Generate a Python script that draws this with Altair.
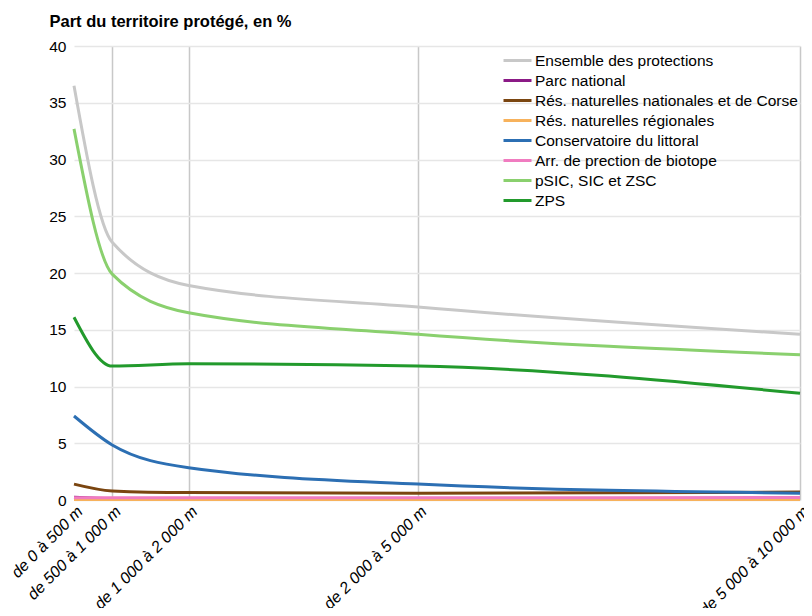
import altair as alt
import pandas as pd

distances = [500, 1000, 2000, 5000, 10000]
distance_labels = ["de 0 à 500 m", "de 500 à 1 000 m", "de 1 000 à 2 000 m",
                   "de 2 000 à 5 000 m", "de 5 000 à 10 000 m"]

series_names = ["Ensemble des protections", "Parc national",
                "Rés. naturelles nationales et de Corse", "Rés. naturelles régionales",
                "Conservatoire du littoral", "Arr. de prection de biotope",
                "pSIC, SIC et ZSC", "ZPS"]
series_colors = ["#c8c8c8", "#8b1a86", "#7a4510", "#f7b25c",
                 "#2c6fb3", "#f07cc0", "#8ad06e", "#229a2c"]

ensemble = [36.5, 22.7, 18.9, 17.0, 14.6]
parc_national = [0.25, 0.12, 0.1, 0.1, 0.1]
res_nationales = [1.4, 0.8, 0.65, 0.6, 0.7]
res_regionales = [0.05, 0.05, 0.05, 0.05, 0.05]
conservatoire = [7.4, 4.85, 2.85, 1.4, 0.6]
biotope = [0.2, 0.2, 0.2, 0.2, 0.22]
sic = [32.7, 19.9, 16.5, 14.6, 12.8]
zps = [16.1, 11.8, 12.0, 11.8, 9.4]

values_by_series = [ensemble, parc_national, res_nationales, res_regionales,
                    conservatoire, biotope, sic, zps]

rows = []
for name, vals in zip(series_names, values_by_series):
    for d, v in zip(distances, vals):
        rows.append({"serie": name, "distance": d, "part": v})
df = pd.DataFrame(rows)

label_expr = " : ".join(
    f"datum.value == {d} ? '{lab}'" for d, lab in zip(distances, distance_labels)
) + " : ''"

chart = alt.Chart(df).mark_line(strokeWidth=3, interpolate="monotone").encode(
    x=alt.X("distance:Q",
            scale=alt.Scale(domain=[500, 10000], nice=False, zero=False),
            axis=alt.Axis(values=distances, labelExpr=label_expr, title=None,
                          labelAngle=315, labelAlign="right", labelBaseline="top",
                          labelFont="Liberation Sans", labelFontStyle="italic",
                          labelFontSize=16, labelColor="#000000", labelPadding=3,
                          ticks=False, domain=False, grid=True,
                          gridColor="#c8c8c8", gridWidth=1.5,
                          gridOpacity={"condition": {"test": "datum.value == 500", "value": 0},
                                       "value": 1},
                          labelFlush=False, labelOverlap=False)),
    y=alt.Y("part:Q",
            scale=alt.Scale(domain=[0, 40], nice=False),
            axis=alt.Axis(values=[0, 5, 10, 15, 20, 25, 30, 35, 40],
                          title="Part du territoire protégé, en %",
                          titleAngle=0, titleX=-25, titleY=-20, titleAlign="left",
                          titleBaseline="alphabetic",
                          titleFont="Liberation Sans", titleFontSize=16.5,
                          titleFontWeight="bold", titleColor="#000000",
                          labelFont="Liberation Sans", labelFontSize=15.5,
                          labelColor="#000000", labelPadding=8,
                          ticks=False, domain=False, grid=True,
                          gridColor="#e6e6e6", gridWidth=1.5)),
    color=alt.Color("serie:N",
                    scale=alt.Scale(domain=series_names, range=series_colors),
                    legend=alt.Legend(title=None, orient="none", legendX=432, legendY=3,
                                      symbolType="M-1.4,0H1.4", symbolSize=400,
                                      symbolStrokeWidth=3,
                                      labelFont="Liberation Sans",
                                      labelFontSize=15.5, labelColor="#000000",
                                      labelOffset=6, rowPadding=0, labelLimit=400)),
).properties(
    width=726, height=454,
    autosize=alt.AutoSizeParams(type="none"),
    padding={"left": 66, "top": 38, "right": 4, "bottom": 108},
).configure_view(stroke=None)

chart.save("out.html", embed_options={"renderer": "svg", "actions": False})
